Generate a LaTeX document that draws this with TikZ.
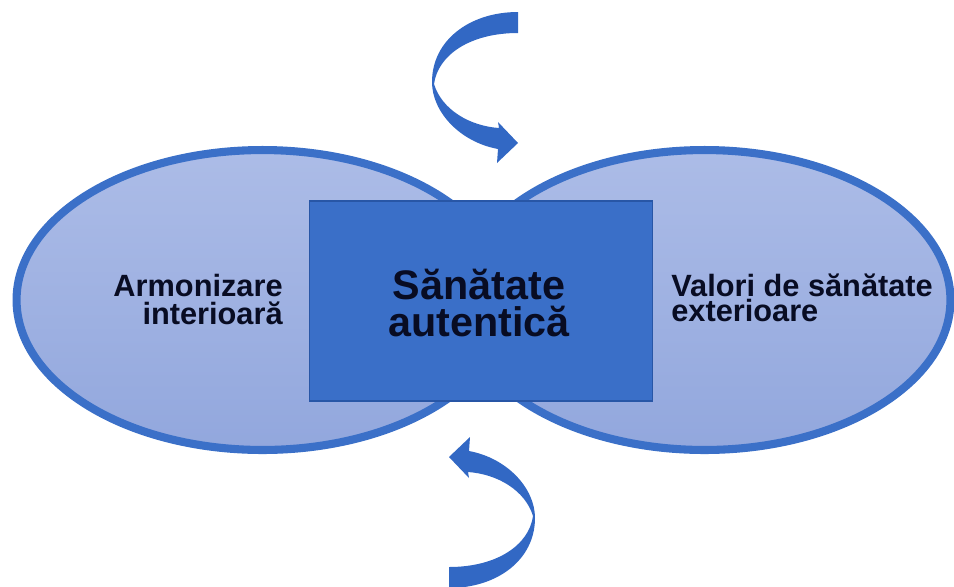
\documentclass[tikz,border=0pt]{standalone}
\usepackage{fontspec}
\setmainfont{Liberation Sans}
\usepackage{tikz}
\usetikzlibrary{shapes.geometric}
\definecolor{lobeline}{RGB}{59,112,200}
\definecolor{lobetop}{RGB}{172,188,231}
\definecolor{lobebottom}{RGB}{146,167,221}
\definecolor{corefill}{RGB}{58,111,200}
\definecolor{coreline}{RGB}{40,86,166}
\definecolor{arrowblue}{RGB}{50,104,196}
\definecolor{ink}{RGB}{8,12,35}
\tikzstyle{lobe}=[ellipse,draw=lobeline,line width=4.6pt,top color=lobetop,bottom color=lobebottom,minimum width=9.84cm,minimum height=6cm]
\tikzstyle{core}=[rectangle,draw=coreline,line width=0.8pt,fill=corefill,minimum width=6.86cm,minimum height=4cm]
\tikzstyle{sidetext}=[inner sep=0pt,text=ink,font=\bfseries\fontsize{17.5}{15.4}\selectfont]
\tikzstyle{coretext}=[inner sep=0pt,text=ink,align=center,font=\bfseries\fontsize{23.5}{21}\selectfont]
\tikzstyle{swirl}=[fill=arrowblue]
\newcommand{\pxunit}{0.02cm}
\newcommand{\bentarrow}{(518,12) .. controls (470,12) and (432,40) .. (432,82)
  .. controls (432,112) and (460,142) .. (498,149) -- (497,163) -- (518,143)
  -- (498,122) -- (499,128) .. controls (470,126) and (442,110) .. (434,84)
  .. controls (438,55) and (470,33) .. (518,33) -- cycle}

\begin{document}
\begin{tikzpicture}[x=\pxunit,y=-\pxunit]
    \useasboundingbox (0,0) rectangle (954,586);
    \node[lobe] (inner) at (262.5,300) {};
    \node[lobe] (outer) at (704.5,300) {};
    \node[core] (core) at (481,301) {};
    \fill[swirl] \bentarrow;
    \fill[swirl,rotate around={180:(483.5,300)}] \bentarrow;
    \node[sidetext,align=right,anchor=base east] (innertext) at (283,324) {Armonizare\\interioară};
    \node[sidetext,align=left,anchor=base west,font=\bfseries\fontsize{17.5}{14}\selectfont] (outertext) at (671,321) {Valori de sănătate\\exterioare};
    \node[coretext,anchor=base] (coretitle) at (479,336) {Sănătate\\autentică};
\end{tikzpicture}
\end{document}
